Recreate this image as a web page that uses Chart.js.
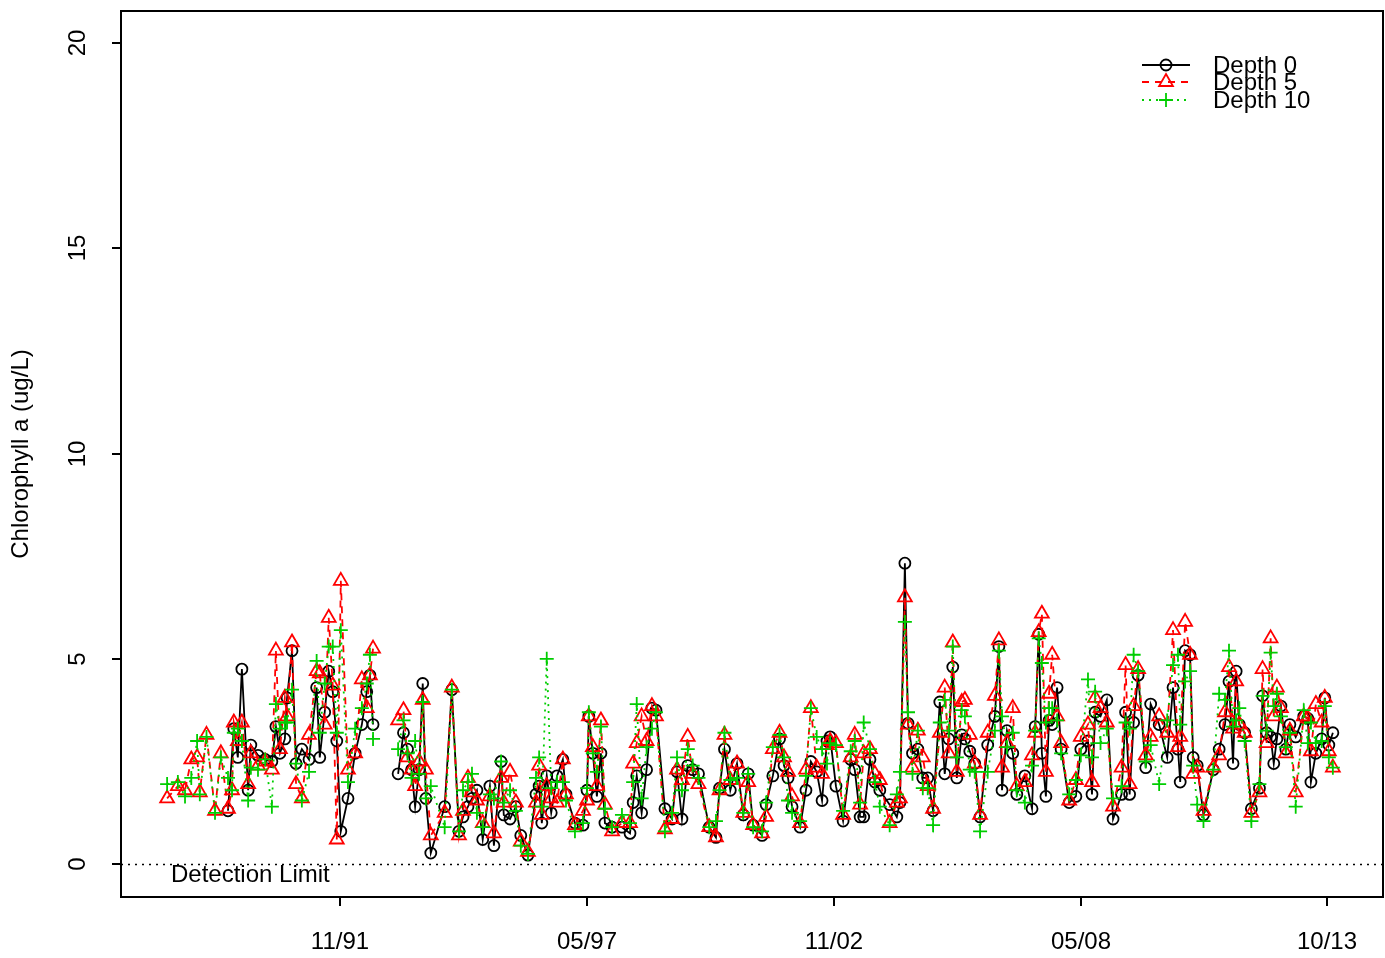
<!DOCTYPE html>
<html>
<head>
<meta charset="utf-8">
<script src="https://cdn.jsdelivr.net/npm/chart.js@4"></script>
<style>
html, body { margin: 0; padding: 0; background: #fff; overflow: hidden; }
#wrap { width: 1385px; height: 958px; }
canvas { display: block; }
</style>
</head>
<body>
<div id="wrap"><canvas id="chart" width="1385" height="958"></canvas></div>
<script>
// sample dates as decimal years
const sampleDates = [
    1987.99, 1988.23, 1988.39, 1988.53, 1988.66, 1988.72, 1988.87, 1989.06, 1989.19, 1989.35,
    1989.44, 1989.48, 1989.57, 1989.66, 1989.80, 1989.86, 1990.02, 1990.18, 1990.33, 1990.42,
    1990.51, 1990.62, 1990.67, 1990.78, 1990.87, 1991.00, 1991.16, 1991.33, 1991.40, 1991.51,
    1991.60, 1991.69, 1991.78, 1991.87, 1992.03, 1992.19, 1992.34, 1992.45, 1992.52, 1992.59,
    1993.15, 1993.27, 1993.36, 1993.45, 1993.53, 1993.62, 1993.70, 1993.77, 1993.88, 1994.19,
    1994.35, 1994.51, 1994.60, 1994.71, 1994.80, 1994.91, 1995.04, 1995.20, 1995.29, 1995.45,
    1995.51, 1995.65, 1995.78, 1995.89, 1996.05, 1996.23, 1996.30, 1996.36, 1996.47, 1996.57,
    1996.70, 1996.83, 1996.90, 1997.10, 1997.28, 1997.37, 1997.41, 1997.50, 1997.59, 1997.68,
    1997.77, 1997.93, 1998.15, 1998.33, 1998.40, 1998.48, 1998.59, 1998.70, 1998.82, 1998.91,
    1999.11, 1999.27, 1999.38, 1999.49, 1999.62, 1999.73, 1999.86, 2000.10, 2000.25, 2000.33,
    2000.44, 2000.57, 2000.72, 2000.86, 2000.97, 2001.08, 2001.28, 2001.37, 2001.52, 2001.67,
    2001.77, 2001.86, 2001.95, 2002.13, 2002.26, 2002.37, 2002.50, 2002.62, 2002.73, 2002.80,
    2002.93, 2003.09, 2003.26, 2003.35, 2003.47, 2003.55, 2003.69, 2003.80, 2003.91, 2004.13,
    2004.29, 2004.36, 2004.47, 2004.54, 2004.64, 2004.76, 2004.87, 2004.98, 2005.10, 2005.25,
    2005.36, 2005.45, 2005.54, 2005.63, 2005.74, 2005.81, 2005.92, 2006.03, 2006.15, 2006.32,
    2006.48, 2006.57, 2006.64, 2006.75, 2006.88, 2006.97, 2007.15, 2007.31, 2007.38, 2007.46,
    2007.53, 2007.62, 2007.69, 2007.76, 2007.87, 2007.96, 2008.14, 2008.29, 2008.40, 2008.56,
    2008.65, 2008.72, 2008.84, 2008.98, 2009.12, 2009.31, 2009.40, 2009.49, 2009.58, 2009.68,
    2009.85, 2009.96, 2010.15, 2010.33, 2010.46, 2010.57, 2010.62, 2010.73, 2010.84, 2010.91,
    2011.00, 2011.14, 2011.36, 2011.49, 2011.62, 2011.71, 2011.80, 2011.87, 2011.94, 2012.06,
    2012.21, 2012.39, 2012.46, 2012.55, 2012.64, 2012.71, 2012.78, 2012.87, 2012.98, 2013.07,
    2013.20, 2013.38, 2013.47, 2013.54, 2013.65, 2013.78, 2013.85, 2013.94, 2014.03
]

const depth0 = [
    null, null, null, null, null, null, null, null, null, 1.3,
    null, 3.3, 2.6, 4.75, 1.8, 2.9, 2.65, 2.55, 2.5, 3.35,
    2.7, 3.05, 4.05, 5.2, 2.45, 2.8, 2.55, 4.3, 2.6, 3.7,
    4.7, 4.2, 3.0, 0.8, 1.6, 2.7, 3.4, 4.2, 4.6, 3.4,
    2.2, 3.2, 2.8, 2.3, 1.4, 2.3, 4.4, 1.6, 0.27, 1.4,
    4.25, 0.8, 1.15, 1.4, 1.6, 1.8, 0.6, 1.9, 0.45, 2.5,
    1.2, 1.1, 1.4, 0.7, 0.22, 1.7, 1.9, 1.0, 2.15, 1.25,
    2.15, 2.55, 1.7, 1.0, 0.95, 1.8, 3.6, 2.7, 1.65, 2.7,
    1.0, 0.9, 0.9, 0.75, 1.5, 2.15, 1.25, 2.3, 3.8, 3.75,
    1.35, 1.1, 2.25, 1.1, 2.4, 2.3, 2.2, 0.9, 0.65, 1.85,
    2.8, 1.8, 2.45, 1.2, 2.2, 0.95, 0.7, 1.45, 2.15, 3.05,
    2.4, 2.1, 1.4, 0.9, 1.8, 2.5, 2.25, 1.55, 3.0, 3.1,
    1.9, 1.05, 2.55, 2.3, 1.15, 1.15, 2.55, 2.0, 1.8, 1.45,
    1.15, 1.5, 7.33, 3.43, 2.7, 2.8, 2.1, 2.1, 1.3, 3.95,
    2.2, 3.05, 4.8, 2.1, 3.15, 3.05, 2.75, 2.45, 1.15, 2.9,
    3.6, 5.3, 1.8, 3.25, 2.7, 1.7, 2.15, 1.35, 3.35, 5.6,
    2.7, 1.65, 3.5, 3.4, 4.3, 2.8, 1.5, 1.65, 2.8, 3.0,
    1.7, 3.7, 3.6, 4.0, 1.1, 1.7, 3.7, 1.7, 3.45, 4.6,
    2.35, 3.9, 3.4, 2.6, 4.3, 2.8, 2.0, 5.2, 5.1, 2.6,
    2.4, 1.2, 2.3, 2.8, 3.4, 4.45, 2.45, 4.7, 3.4, 3.2,
    1.35, 1.85, 4.1, 3.2, 3.1, 2.45, 3.05, 3.85, 2.8, 3.4,
    3.1, 3.6, 3.55, 2.0, 2.7, 3.05, 4.05, 2.9, 3.2
]

const depth5 = [
    1.6, 1.9, 1.8, 2.55, 2.6, 1.75, 3.15, 1.3, 2.7, 1.35,
    1.8, 3.45, 3.0, 3.45, 1.95, 2.7, 2.4, 2.5, 2.3, 5.2,
    2.8, 4.05, 3.6, 5.4, 1.95, 1.6, 3.15, 4.7, 4.65, 3.4,
    6.0, 4.35, 0.6, 6.9, 2.3, 2.7, 4.5, 3.8, 4.6, 5.25,
    3.5, 3.75, 2.6, 2.3, 1.9, 2.5, 4.0, 2.3, 0.7, 1.25,
    4.3, 0.7, 1.3, 2.1, 1.75, 1.55, 1.0, 1.65, 0.75, 2.1,
    1.5, 2.25, 1.5, 0.55, 0.3, 1.5, 2.4, 1.2, 1.9, 1.6,
    1.5, 2.55, 1.7, 0.95, 1.3, 1.55, 3.6, 2.85, 1.9, 3.5,
    1.45, 0.8, 1.0, 1.0, 2.45, 2.95, 3.6, 3.0, 3.85, 3.6,
    0.85, 1.1, 2.3, 2.05, 3.1, 2.2, 1.95, 0.9, 0.65, 1.8,
    3.15, 2.05, 2.45, 1.25, 2.0, 0.95, 0.75, 1.15, 2.8, 3.2,
    2.6, 2.25, 1.65, 1.0, 2.3, 3.8, 2.35, 2.2, 2.9, 3.0,
    2.95, 1.2, 2.6, 3.15, 1.45, 2.7, 2.8, 2.2, 2.05, 1.0,
    1.5, 1.6, 6.5, 3.4, 2.35, 3.25, 2.6, 1.9, 1.35, 3.2,
    4.3, 2.7, 5.4, 2.25, 3.95, 4.0, 3.15, 2.45, 1.2, 3.2,
    4.1, 5.45, 2.35, 2.95, 3.8, 1.9, 2.0, 2.65, 3.2, 5.65,
    6.1, 2.25, 4.15, 5.1, 3.6, 2.95, 1.55, 2.05, 3.1, 3.4,
    2.0, 4.05, 3.8, 3.45, 1.4, 2.35, 4.85, 1.95, 3.85, 4.75,
    2.65, 3.1, 3.6, 3.2, 5.7, 2.85, 3.1, 5.9, 5.1, 2.2,
    2.35, 1.3, 2.35, 2.65, 3.7, 4.8, 3.3, 4.45, 3.4, 3.2,
    1.25, 1.75, 4.75, 2.95, 5.5, 3.6, 4.3, 3.8, 2.7, 3.25,
    1.75, 3.6, 3.55, 2.75, 3.9, 3.45, 4.05, 2.75, 2.35
]

const depth10 = [
    1.95, 2.0, 1.65, 2.1, 3.0, 1.7, 3.1, 1.25, 2.6, 2.1,
    1.8, 3.2, 3.3, 3.0, 1.55, 2.35, 2.3, 2.55, 1.4, 3.9,
    3.3, 3.45, 3.45, 4.25, 2.45, 1.55, 2.25, 4.95, 3.2, 4.4,
    5.3, 5.3, 3.2, 5.7, 2.0, 3.3, 3.8, 4.4, 5.1, 3.05,
    2.8, 3.5, 2.7, 2.1, 3.0, 2.2, 3.95, 1.6, 1.9, 0.9,
    4.25, 0.8, 1.8, 2.0, 2.2, 1.25, 0.9, 1.7, 1.6, 2.5,
    1.5, 1.8, 1.3, 0.45, 0.25, 2.1, 2.6, 1.4, 5.0, 1.85,
    2.0, 2.0, 1.55, 0.8, 1.0, 1.85, 3.7, 2.7, 2.25, 3.35,
    1.35, 0.9, 1.2, 1.0, 2.0, 3.9, 1.6, 2.85, 3.3, 3.7,
    0.8, 1.25, 2.6, 1.8, 2.8, 2.4, 2.1, 0.9, 1.05, 1.8,
    3.2, 2.05, 2.1, 1.25, 2.2, 0.9, 0.8, 1.5, 2.85, 3.15,
    2.6, 1.55, 1.25, 1.05, 2.15, 3.8, 3.1, 2.8, 2.45, 2.95,
    2.9, 1.3, 2.75, 3.0, 1.5, 3.45, 2.8, 2.0, 1.4, 0.95,
    1.7, 2.25, 5.9, 3.7, 2.2, 3.25, 1.85, 1.85, 0.95, 3.45,
    4.0, 3.25, 5.3, 2.6, 3.75, 3.6, 2.3, 2.25, 0.8, 2.25,
    3.25, 5.2, 3.6, 2.85, 3.2, 1.8, 1.5, 2.4, 3.25, 5.5,
    4.9, 3.45, 3.8, 3.8, 3.5, 2.7, 1.7, 2.05, 2.65, 4.5,
    2.6, 4.2, 2.95, 3.3, 1.6, 1.9, 3.45, 3.3, 5.1, 4.7,
    2.5, 2.9, 1.95, 3.5, 4.85, 5.1, 3.4, 4.45, 4.7, 2.4,
    1.45, 1.05, 2.3, 4.15, 4.0, 5.2, 3.35, 3.5, 3.8, 3.0,
    1.05, 1.95, 4.1, 3.25, 5.15, 3.85, 4.15, 3.6, 2.85, 3.2,
    1.4, 3.75, 2.95, 3.45, 2.95, 3.0, 3.85, 2.6, 2.35
]

const seriesNames = ['Depth 0', 'Depth 5', 'Depth 10']
const yTicks = [0, 5, 10, 15, 20]
const xTickValues = [1991.85, 1997.37, 2002.88, 2008.40, 2013.90]
const xTickLabels = ['11/91', '05/97', '11/02', '05/08', '10/13']
const detectionLimit = 0

const FONT = '24px "Liberation Sans", Arial, Helvetica, sans-serif'
const BLACK = '#000000'
const RED = '#FF0000'
const GREEN = '#00CD00'
const DASHED = [7, 6]
const DOTTED = [2, 5]

function toPoints(values) {
    return sampleDates
        .map((x, i) => ({ x: x, y: values[i] }))
        .filter(p => p.y !== null)
}

function drawMarker(ctx, style, x, y) {
    ctx.beginPath()
    if (style === 'circle') {
        ctx.arc(x, y, 5.5, 0, Math.PI * 2)
    } else if (style === 'triangle') {
        const r = 8
        ctx.moveTo(x, y - r)
        ctx.lineTo(x + r * 0.866, y + r * 0.5)
        ctx.lineTo(x - r * 0.866, y + r * 0.5)
        ctx.closePath()
    } else {
        ctx.moveTo(x - 7, y)
        ctx.lineTo(x + 7, y)
        ctx.moveTo(x, y - 7)
        ctx.lineTo(x, y + 7)
    }
    ctx.stroke()
}

// R style box, axes, labels, legend and detection limit
const baseGraphics = {
    id: 'baseGraphics',
    beforeDatasetsDraw(chart) {
        const { ctx, chartArea: a, scales: { y } } = chart
        const py = Math.round(y.getPixelForValue(detectionLimit)) + 0.5
        ctx.save()
        ctx.strokeStyle = BLACK
        ctx.lineWidth = 1.5
        ctx.setLineDash(DOTTED)
        ctx.beginPath()
        ctx.moveTo(a.left, py)
        ctx.lineTo(a.right, py)
        ctx.stroke()
        ctx.setLineDash([])
        ctx.fillStyle = BLACK
        ctx.font = FONT
        ctx.textAlign = 'left'
        ctx.textBaseline = 'middle'
        ctx.fillText('Detection Limit', 171, py + 11)
        ctx.restore()
    },
    afterDraw(chart) {
        const { ctx, chartArea: a, scales: { x, y } } = chart
        ctx.save()
        ctx.strokeStyle = BLACK
        ctx.fillStyle = BLACK
        ctx.lineWidth = 2
        ctx.strokeRect(a.left, a.top, a.right - a.left, a.bottom - a.top)
        ctx.font = FONT

        yTicks.forEach(v => {
            const py = Math.round(y.getPixelForValue(v))
            ctx.beginPath()
            ctx.moveTo(a.left - 9, py)
            ctx.lineTo(a.left, py)
            ctx.stroke()
            ctx.save()
            ctx.translate(78, py)
            ctx.rotate(-Math.PI / 2)
            ctx.textAlign = 'center'
            ctx.textBaseline = 'middle'
            ctx.fillText(String(v), 0, 0)
            ctx.restore()
        })

        xTickValues.forEach((v, i) => {
            const px = Math.round(x.getPixelForValue(v))
            ctx.beginPath()
            ctx.moveTo(px, a.bottom)
            ctx.lineTo(px, a.bottom + 9)
            ctx.stroke()
            ctx.textAlign = 'center'
            ctx.textBaseline = 'middle'
            ctx.fillText(xTickLabels[i], px, 942)
        })

        ctx.save()
        ctx.translate(21, (a.top + a.bottom) / 2)
        ctx.rotate(-Math.PI / 2)
        ctx.textAlign = 'center'
        ctx.textBaseline = 'middle'
        ctx.fillText('Chlorophyll a (ug/L)', 0, 0)
        ctx.restore()

        // legend
        const legendItems = [
            { color: BLACK, dash: [], marker: 'circle', y: 65 },
            { color: RED, dash: DASHED, marker: 'triangle', y: 82 },
            { color: GREEN, dash: DOTTED, marker: 'cross', y: 100 }
        ]
        legendItems.forEach((item, i) => {
            ctx.strokeStyle = item.color
            ctx.lineWidth = 1.8
            ctx.setLineDash(item.dash)
            ctx.beginPath()
            ctx.moveTo(1142, item.y)
            ctx.lineTo(1190, item.y)
            ctx.stroke()
            ctx.setLineDash([])
            drawMarker(ctx, item.marker, 1166, item.y)
            ctx.fillStyle = BLACK
            ctx.textAlign = 'left'
            ctx.textBaseline = 'middle'
            ctx.fillText(seriesNames[i], 1213, item.y + 1)
        })
        ctx.restore()
    }
}

function series(label, values, color, dash, style, radius, order) {
    return {
        label: label,
        data: toPoints(values),
        borderColor: color,
        backgroundColor: 'rgba(0,0,0,0)',
        borderWidth: 1.8,
        borderDash: dash,
        pointStyle: style,
        pointRadius: radius,
        pointBorderColor: color,
        pointBackgroundColor: 'rgba(0,0,0,0)',
        pointBorderWidth: 1.8,
        tension: 0,
        spanGaps: 0.5,
        order: order
    }
}

const chartConfig = {
    type: 'line',
    data: {
        datasets: [
            series(seriesNames[0], depth0, BLACK, [], 'circle', 5.5, 3),
            series(seriesNames[1], depth5, RED, DASHED, 'triangle', 8, 2),
            series(seriesNames[2], depth10, GREEN, DOTTED, 'cross', 7, 1)
        ]
    },
    options: {
        responsive: false,
        animation: false,
        events: [],
        layout: { autoPadding: false, padding: { left: 121, right: 2, top: 11, bottom: 61 } },
        plugins: { legend: { display: false }, tooltip: { enabled: false } },
        scales: {
            x: { type: 'linear', min: 1986.96, max: 2015.15, display: false },
            y: { type: 'linear', min: -0.8, max: 20.78, display: false }
        }
    },
    plugins: [baseGraphics]
}

new Chart(document.getElementById('chart'), chartConfig)
</script>
</body>
</html>
